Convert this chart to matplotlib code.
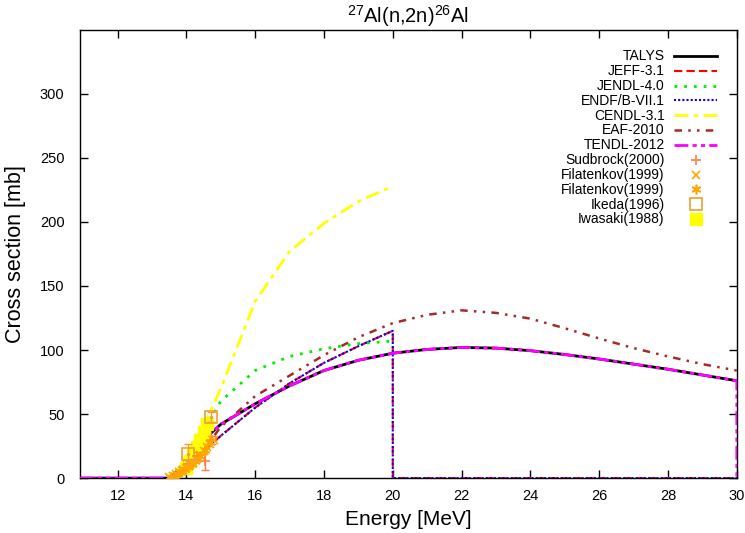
import matplotlib
matplotlib.use("Agg")
import matplotlib.pyplot as plt

plt.rcParams['font.family'] = ['Liberation Sans', 'DejaVu Sans']
plt.rcParams['mathtext.default'] = 'regular'

# ---- evaluated data ----
talys_e = [10.9, 13.55, 14.0, 14.5, 15.0, 16.0, 17.0, 18.0, 19.0, 20.0, 21.0, 22.0, 23.0, 24.0, 25.0, 26.0, 27.0, 28.0, 29.0, 30.0]
talys_v = [0, 0, 14, 30, 42, 58, 72, 84, 92, 97.5, 100.5, 102, 101.5, 99.5, 96.5, 93, 89, 85, 80.5, 76]

jeff_e = [10.9, 13.6, 14.0, 14.5, 15.0, 16.0, 17.0, 18.0, 19.0, 20.0, 20.0, 30.0]
jeff_v = [0, 0, 7, 21, 33, 55, 74, 90, 103, 115, 0, 0]

jendl_e = [13.6, 14.0, 14.5, 15.0, 16.0, 17.0, 18.0, 19.0, 20.0]
jendl_v = [0, 15, 38, 60, 84, 95, 101, 105, 107]

endf_e = [10.9, 13.6, 14.0, 14.5, 15.0, 16.0, 17.0, 18.0, 19.0, 20.0, 20.0, 30.0]
endf_v = [0, 0, 7, 21, 33, 55, 74, 90, 103, 115, 0, 0]

cendl_e = [13.6, 14.0, 14.5, 15.0, 16.0, 17.0, 18.0, 19.0, 20.0]
cendl_v = [0, 18, 40, 70, 138, 177, 199, 216, 228]

eaf_e = [13.6, 14.0, 14.5, 15.0, 16.0, 17.0, 18.0, 19.0, 20.0, 21.0, 22.0, 23.0, 24.0, 25.0, 26.0, 27.0, 28.0, 29.0, 30.0]
eaf_v = [0, 3, 22, 40, 64, 80, 96, 110, 121, 127.5, 131, 129, 124.5, 117, 109, 101.5, 95, 89, 84]

tendl_e = [10.9, 13.55, 14.0, 14.5, 15.0, 16.0, 17.0, 18.0, 19.0, 20.0, 21.0, 22.0, 23.0, 24.0, 25.0, 26.0, 27.0, 28.0, 29.0, 30.0, 30.0]
tendl_v = [0, 0, 14, 30, 42, 58, 72, 84, 92, 97.5, 100.5, 102, 101.5, 99.5, 96.5, 93, 89, 85, 80.5, 76, 0]

# ---- experimental data ----
sud_e = [14.05, 14.3, 14.53, 14.75]
sud_v = [11, 17, 13, 30]
sud_err = [3, 3, 7, 3]

fil1_e = [13.5, 13.6, 13.7, 13.8, 13.9, 14.0, 14.1, 14.2, 14.3, 14.4, 14.5, 14.6, 14.7, 14.8]
fil1_v = [0.5, 1.5, 3, 4.5, 6, 8, 10, 12, 15, 18, 21, 24, 27, 30]

fil2_e = [13.55, 13.65, 13.75, 13.85, 13.95, 14.05, 14.15, 14.25, 14.4, 14.55, 14.7]
fil2_v = [1, 2, 3.5, 5, 7, 9, 11, 13, 17, 22, 28]

ike_e = [14.05, 14.73]
ike_v = [19, 48]
ike_err = [8, 4]

iwa_e = [14.0, 14.1, 14.2, 14.3, 14.4, 14.5, 14.6]
iwa_v = [8, 13, 18, 24, 30, 36, 42]

fig = plt.figure(figsize=(7.45, 5.33), dpi=100)
ax = fig.add_axes([0.107, 0.103, 0.882, 0.841])

h = []
h.append(ax.plot(talys_e, talys_v, color='black', lw=2.0, label='TALYS', zorder=3)[0])
h.append(ax.plot(jeff_e, jeff_v, color='#ff0000', lw=1.5, ls=(0, (4, 2)), label='JEFF-3.1', zorder=4)[0])
h.append(ax.plot(jendl_e, jendl_v, color='#00ee00', lw=2.0, ls=(0, (1, 2.5)), label='JENDL-4.0', zorder=4)[0])
h.append(ax.plot(endf_e, endf_v, color='#0000ff', lw=1.5, ls=(0, (1, 1)), label='ENDF/B-VII.1', zorder=4)[0])
h.append(ax.plot(cendl_e, cendl_v, color='#ffff00', lw=2.0, ls=(0, (5, 2, 1.5, 2)), label='CENDL-3.1', zorder=4)[0])
h.append(ax.plot(eaf_e, eaf_v, color='#a52a2a', lw=1.8, ls=(0, (3, 2.5, 1, 2.5, 1, 2.5)), label='EAF-2010', zorder=4)[0])
h.append(ax.plot(tendl_e, tendl_v, color='#ff00ff', lw=2.0, ls=(0, (5, 1.5, 1.5, 1.5, 1.5, 1.5)), label='TENDL-2012', zorder=4)[0])

ax.errorbar(sud_e, sud_v, yerr=sud_err, fmt='none', ecolor='#ff7f3f', elinewidth=1, capsize=3, zorder=5)
h.append(ax.plot(sud_e, sud_v, '+', color='#ff7f3f', ms=7, mew=1.2, ls='none', label='Sudbrock(2000)', zorder=5)[0])
h.append(ax.plot(fil1_e, fil1_v, 'x', color='#ffa500', ms=6, mew=1.2, ls='none', label='Filatenkov(1999)', zorder=5)[0])
h.append(ax.plot(fil2_e, fil2_v, marker=(6, 2, 0), color='#ffa500', ms=7, mew=1.2, ls='none', label='Filatenkov(1999)', zorder=5)[0])
ax.errorbar(ike_e, ike_v, yerr=ike_err, fmt='none', ecolor='#f0a030', elinewidth=1, capsize=3, zorder=5)
h.append(ax.plot(ike_e, ike_v, marker='s', mfc='none', mec='#f0a030', ms=8, mew=1.2, ls='none', label='Ikeda(1996)', zorder=5)[0])
ax.plot(ike_e, ike_v, marker='.', color='#f0a030', ms=3, ls='none', zorder=5)
h.append(ax.plot(iwa_e, iwa_v, 's', color='#ffff00', ms=9, ls='none', label='Iwasaki(1988)', zorder=4.5)[0])

ax.set_xlim(10.9, 30)
ax.set_ylim(0, 350)
ax.set_xticks([12, 14, 16, 18, 20, 22, 24, 26, 28, 30])
ax.set_yticks([0, 50, 100, 150, 200, 250, 300])
ax.tick_params(direction='in', length=6, width=1, labelsize=10.5, top=True, right=True)
ax.tick_params(axis='x', pad=8)
ax.tick_params(axis='y', pad=11)
for s in ax.spines.values():
    s.set_linewidth(1.0)

ax.set_xlabel('Energy [MeV]', fontsize=15, labelpad=5)
ax.set_ylabel('Cross section [mb]', fontsize=15.5, labelpad=10)
ax.set_title('$^{27}$Al(n,2n)$^{26}$Al', fontsize=14.5, pad=5)

leg = ax.legend(h, [x.get_label() for x in h], loc='upper right', frameon=False, markerfirst=False,
                fontsize=10, handlelength=3.1, handleheight=0.5, labelspacing=0.06,
                borderaxespad=1.0, handletextpad=0.7, numpoints=1, borderpad=0.4)
for t in leg.get_texts():
    t.set_ha('right')

fig.savefig('out.png', dpi=100)
